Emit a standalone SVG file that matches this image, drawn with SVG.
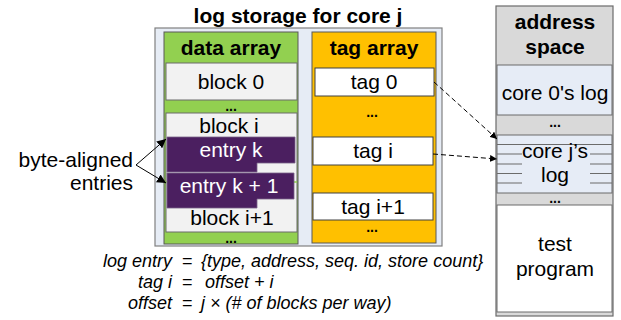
<svg xmlns="http://www.w3.org/2000/svg" width="621" height="320" viewBox="0 0 621 320">
  <defs>
    <marker id="arrow" viewBox="0 0 10 10" refX="10" refY="5" markerWidth="7" markerHeight="7" orient="auto" markerUnits="userSpaceOnUse">
      <path d="M0,0 L10,5 L0,10 Z" fill="#000"/>
    </marker>
    <marker id="arrowBig" viewBox="0 0 10 10" refX="10" refY="5" markerWidth="9" markerHeight="9" orient="auto" markerUnits="userSpaceOnUse">
      <path d="M0,0 L10,5 L0,10 Z" fill="#000"/>
    </marker>
  </defs>
  <style>
    text { font-family: "Liberation Sans", Arial, sans-serif; fill: #000; }
    .h { font-size: 21px; font-weight: bold; text-anchor: middle; }
    .t { font-size: 21px; text-anchor: middle; }
    .w { font-size: 21px; text-anchor: middle; fill: #fff; }
    .dots { font-size: 14px; font-weight: bold; text-anchor: middle; }
    .eq { font-size: 18px; font-style: italic; }
    .box { stroke: #595959; stroke-width: 1; }
    .block { fill: #f2f2f2; stroke: #6b6b6b; stroke-width: 1; }
    .tag { fill: #fff; stroke: #404040; stroke-width: 1; }
    .entry { fill: #4b1f60; stroke: #7a6288; stroke-width: 0.8; }
    .log { fill: #e6ecf6; stroke: #6b6b6b; stroke-width: 1; }
    .stripe { stroke: #6b6b6b; stroke-width: 1; }
    .dash { stroke: #000; stroke-width: 1; stroke-dasharray: 5 3; fill: none; }
    .solid { stroke: #000; stroke-width: 1; fill: none; }
  </style>

  <!-- log storage container -->
  <g id="log-storage">
    <rect x="155" y="28" width="287" height="218" fill="#e6ecf5" stroke="#808080" stroke-width="1.2"/>
    <text class="h" x="298" y="23">log storage for core j</text>
  </g>

  <!-- data array column -->
  <g id="data-array">
    <rect x="164" y="32" width="134" height="212" fill="#92d050" class="box"/>
    <text class="h" x="231" y="55">data array</text>
    <rect class="block" x="166" y="63" width="131" height="37"/>
    <text class="t" x="231" y="89">block 0</text>
    <text class="dots" x="231" y="111">...</text>
    <rect class="block" x="166" y="113" width="131" height="119"/>
    <line x1="166" y1="182" x2="297" y2="182" stroke="#92d050" stroke-width="1.5"/>
    <text class="t" x="229" y="133">block i</text>
    <text class="t" x="232" y="225">block i+1</text>
    <text class="dots" x="231" y="243">...</text>
  </g>

  <g id="entry-k">
    <path class="entry" d="M167,137 H295 V163 H257 V172 H167 Z"/>
    <text class="w" x="231" y="157">entry k</text>
  </g>

  <g id="entry-k1">
    <path class="entry" d="M167,173 H294 V199 H257 V208 H167 Z"/>
    <text class="w" x="229" y="193">entry k + 1</text>
  </g>

  <!-- tag array column -->
  <g id="tag-array">
    <rect x="312" y="32" width="124" height="211" fill="#ffc000" class="box"/>
    <text class="h" x="374" y="55">tag array</text>
    <text class="dots" x="372" y="117">...</text>
    <text class="dots" x="372" y="232">...</text>
  </g>

  <g id="tag-0">
    <rect class="tag" x="315" y="68" width="119" height="28"/>
    <text class="t" x="374" y="89">tag 0</text>
  </g>

  <g id="tag-i">
    <rect class="tag" x="313" y="137" width="120" height="28"/>
    <text class="t" x="373" y="158">tag i</text>
  </g>

  <g id="tag-i1">
    <rect class="tag" x="313" y="193" width="120" height="27"/>
    <text class="t" x="373" y="214">tag i+1</text>
  </g>

  <!-- address space column -->
  <g id="address-space">
    <rect x="496" y="6" width="117" height="310" fill="#d9d9d9" stroke="#6b6b6b" stroke-width="1.2"/>
    <text class="h" x="555" y="29">address</text>
    <text class="h" x="555" y="54">space</text>
    <text class="dots" x="555" y="127">...</text>
    <text class="dots" x="555" y="203">...</text>
  </g>

  <g id="core0-log">
    <rect class="log" x="497" y="65" width="115" height="50"/>
    <text class="t" x="555" y="100">core 0's log</text>
  </g>

  <g id="corej-log">
    <rect class="log" x="497" y="135" width="115" height="58"/>
    <line class="stripe" x1="497" y1="144.5" x2="612" y2="144.5"/>
    <g class="stripe">
      <line x1="497" y1="154" x2="522" y2="154"/>
      <line x1="497" y1="164" x2="522" y2="164"/>
      <line x1="497" y1="173.5" x2="522" y2="173.5"/>
      <line x1="497" y1="183" x2="522" y2="183"/>
      <line x1="590" y1="154" x2="612" y2="154"/>
      <line x1="590" y1="164" x2="612" y2="164"/>
      <line x1="590" y1="173.5" x2="612" y2="173.5"/>
      <line x1="590" y1="183" x2="612" y2="183"/>
    </g>
    <text class="t" x="555" y="158">core j’s</text>
    <text class="t" x="555" y="182">log</text>
  </g>

  <g id="test-program">
    <rect x="497" y="205" width="115" height="107" fill="#fff" stroke="#6b6b6b" stroke-width="1"/>
    <text class="t" x="555" y="251">test</text>
    <text class="t" x="555" y="276">program</text>
  </g>

  <g id="byte-aligned">
    <text class="t" x="133" y="167" style="text-anchor:end">byte-aligned</text>
    <text class="t" x="133" y="190" style="text-anchor:end">entries</text>
  </g>

  <!-- connectors -->
  <g id="connectors">
    <path class="solid" d="M136,165 L166,139" marker-end="url(#arrowBig)"/>
    <path class="solid" d="M136,165 L166,183" marker-end="url(#arrowBig)"/>
    <path class="dash" d="M434,82 L497,139" marker-end="url(#arrow)"/>
    <path class="dash" d="M433,154 L497,159" marker-end="url(#arrow)"/>
  </g>

  <!-- definitions -->
  <g id="legend">
    <text class="eq" x="172" y="267" text-anchor="end">log entry</text>
    <text class="eq" x="187" y="267" text-anchor="middle">=</text>
    <text class="eq" x="201" y="267">{type, address, seq. id, store count}</text>
    <text class="eq" x="172" y="288" text-anchor="end">tag i</text>
    <text class="eq" x="187" y="288" text-anchor="middle">=</text>
    <text class="eq" x="205" y="288">offset + i</text>
    <text class="eq" x="172" y="309" text-anchor="end">offset</text>
    <text class="eq" x="187" y="309" text-anchor="middle">=</text>
    <text class="eq" x="201" y="309">j × (# of blocks per way)</text>
  </g>
</svg>
